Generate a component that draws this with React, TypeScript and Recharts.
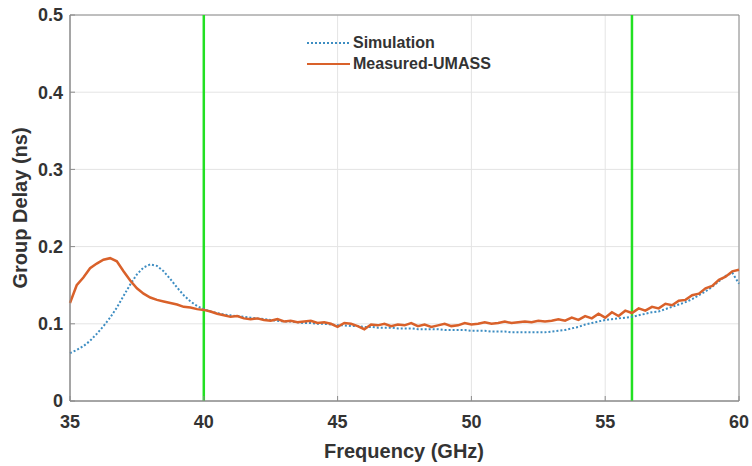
import {
  LineChart,
  Line,
  XAxis,
  YAxis,
  CartesianGrid,
  ReferenceLine,
  ReferenceArea,
  Legend,
} from "recharts";

// frequency grid (GHz)
const freq = [
  35, 35.25, 35.5, 35.75, 36, 36.25, 36.5, 36.75, 37, 37.25, 37.5, 37.75,
  38, 38.25, 38.5, 38.75, 39, 39.25, 39.5, 39.75, 40, 40.25, 40.5, 40.75,
  41, 41.25, 41.5, 41.75, 42, 42.25, 42.5, 42.75, 43, 43.25, 43.5, 43.75,
  44, 44.25, 44.5, 44.75, 45, 45.25, 45.5, 45.75, 46, 46.25, 46.5, 46.75,
  47, 47.25, 47.5, 47.75, 48, 48.25, 48.5, 48.75, 49, 49.25, 49.5, 49.75,
  50, 50.25, 50.5, 50.75, 51, 51.25, 51.5, 51.75, 52, 52.25, 52.5, 52.75,
  53, 53.25, 53.5, 53.75, 54, 54.25, 54.5, 54.75, 55, 55.25, 55.5, 55.75,
  56, 56.25, 56.5, 56.75, 57, 57.25, 57.5, 57.75, 58, 58.25, 58.5, 58.75,
  59, 59.25, 59.5, 59.75, 60,
];

const simulation = [
  0.062, 0.066, 0.071, 0.078, 0.087, 0.097, 0.108, 0.121, 0.136, 0.151, 0.164, 0.173,
  0.177, 0.175, 0.168, 0.158, 0.147, 0.137, 0.129, 0.123, 0.119, 0.116, 0.114, 0.112,
  0.111, 0.11, 0.109, 0.108, 0.107, 0.106, 0.105, 0.104, 0.103, 0.103, 0.102, 0.101,
  0.101, 0.1, 0.1, 0.099, 0.098, 0.098, 0.097, 0.097, 0.096, 0.096, 0.095, 0.095,
  0.095, 0.094, 0.094, 0.094, 0.093, 0.093, 0.093, 0.093, 0.092, 0.092, 0.092, 0.092,
  0.091, 0.091, 0.091, 0.09, 0.09, 0.09, 0.089, 0.089, 0.089, 0.089, 0.089, 0.089,
  0.09, 0.091, 0.092, 0.094, 0.096, 0.099, 0.101, 0.103, 0.105, 0.106, 0.107, 0.108,
  0.109, 0.111, 0.113, 0.115, 0.116, 0.119, 0.122, 0.125, 0.128, 0.132, 0.137, 0.142,
  0.148, 0.155, 0.162, 0.166, 0.152,
];

const measured = [
  0.127, 0.15, 0.16, 0.172, 0.178, 0.183, 0.185, 0.181, 0.168, 0.156, 0.146, 0.139,
  0.134, 0.131, 0.129, 0.127, 0.125, 0.122, 0.121, 0.119, 0.118, 0.116, 0.113, 0.111,
  0.109, 0.11, 0.107, 0.106, 0.107, 0.105, 0.104, 0.106, 0.103, 0.104, 0.102, 0.103,
  0.104, 0.101, 0.102, 0.1, 0.096, 0.101, 0.1, 0.097, 0.093, 0.099, 0.098, 0.1,
  0.097, 0.099, 0.098, 0.101, 0.097, 0.099, 0.096, 0.098, 0.1, 0.097, 0.098, 0.101,
  0.099, 0.1, 0.102, 0.1, 0.101, 0.103, 0.101, 0.102, 0.103, 0.102, 0.104, 0.103,
  0.104, 0.106, 0.104, 0.108, 0.105, 0.11, 0.107, 0.113, 0.108, 0.115, 0.11, 0.117,
  0.114, 0.12, 0.117, 0.122, 0.12, 0.126, 0.124, 0.13, 0.131, 0.137, 0.139, 0.146,
  0.149, 0.157, 0.161, 0.168, 0.17,
];

const xTicks = [35, 40, 45, 50, 55, 60];
const yTicks = [0, 0.1, 0.2, 0.3, 0.4, 0.5];
const bandEdges = [40, 56];

const data = freq.map((f, i) => ({ f, sim: simulation[i], meas: measured[i] }));

const SIM_COLOR = "#3d8dc2";
const MEAS_COLOR = "#d9612a";
const TEXT = "#333333";
const FONT = "'Liberation Sans', Arial, sans-serif";

function LegendBox() {
  const row = (label: string, color: string, dash?: string) => (
    <div style={{ display: "flex", alignItems: "center", height: 21 }}>
      <svg width={46} height={6}>
        <line x1={0} y1={3} x2={43} y2={3} stroke={color} strokeWidth={2} strokeDasharray={dash} />
      </svg>
      <span style={{ fontFamily: FONT, fontWeight: 700, fontSize: 16, color: TEXT }}>{label}</span>
    </div>
  );
  return (
    <div>
      {row("Simulation", SIM_COLOR, "2 2")}
      {row("Measured-UMASS", MEAS_COLOR)}
    </div>
  );
}

export default function App() {
  return (
    <div style={{ position: "absolute", left: 0, top: 0, background: "#fff" }}>
      <LineChart width={752} height={466} data={data} margin={{ top: 15, right: 13, left: 0, bottom: 0 }}>
        <CartesianGrid stroke="#e4e4e4" strokeWidth={1} />
        <XAxis
          dataKey="f"
          type="number"
          domain={[35, 60]}
          ticks={xTicks}
          height={65}
          stroke="#8c8c8c"
          tickSize={-5}
          tickMargin={19}
          tick={{ fill: TEXT, fontSize: 18, fontWeight: 700, fontFamily: FONT }}
          label={() => (
            <text x={404} y={451} textAnchor="middle" dominantBaseline="central" fill={TEXT}
              style={{ fontFamily: FONT, fontWeight: 700, fontSize: 20 }}>
              Frequency (GHz)
            </text>
          )}
        />
        <YAxis
          type="number"
          domain={[0, 0.5]}
          ticks={yTicks}
          width={70}
          stroke="#8c8c8c"
          tickSize={-5}
          tickMargin={12}
          tickFormatter={(v: number) => (v === 0 ? "0" : v.toFixed(1))}
          tick={{ fill: TEXT, fontSize: 18, fontWeight: 700, fontFamily: FONT }}
          label={() => (
            <text x={20} y={208} textAnchor="middle" dominantBaseline="central" fill={TEXT}
              transform="rotate(-90 20 208)"
              style={{ fontFamily: FONT, fontWeight: 700, fontSize: 20 }}>
              Group Delay (ns)
            </text>
          )}
        />
        <ReferenceArea x1={35} x2={60} y1={0} y2={0.5} fill="none" stroke="#8c8c8c" strokeWidth={1} />
        {bandEdges.map((x) => (
          <ReferenceLine key={x} x={x} stroke="#22e022" strokeWidth={2.5} />
        ))}
        <Legend
          layout="horizontal"
          verticalAlign="middle"
          align="center"
          wrapperStyle={{ left: 307, top: 32, width: "auto" }}
          content={() => <LegendBox />}
        />
        <Line dataKey="sim" stroke={SIM_COLOR} strokeWidth={2} strokeDasharray="2 2" dot={false} isAnimationActive={false} />
        <Line dataKey="meas" stroke={MEAS_COLOR} strokeWidth={2.5} dot={false} isAnimationActive={false} />
      </LineChart>
    </div>
  );
}
